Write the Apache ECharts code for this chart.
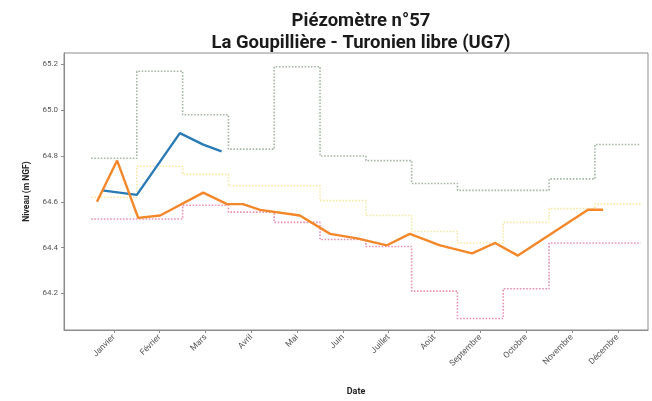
<!DOCTYPE html>
<html>
<head>
<meta charset="utf-8">
<script src="https://cdn.jsdelivr.net/npm/echarts@6/dist/echarts.min.js"></script>
<style>
  html, body { margin: 0; padding: 0; background: #fff; }
  #main { width: 652px; height: 401px; }
</style>
</head>
<body>
<div id="main"></div>
<script>
// mois (axe x en mois depuis le 1er janvier)
var months = ['Janvier', 'Février', 'Mars', 'Avril', 'Mai', 'Juin', 'Juillet',
    'Août', 'Septembre', 'Octobre', 'Novembre', 'Décembre'];
var monthTicks = [0.5, 1.5, 2.5, 3.5, 4.5, 5.5, 6.5, 7.5, 8.5, 9.5, 10.5, 11.5];
var yTicks = [64.2, 64.4, 64.6, 64.8, 65.0, 65.2];

// statistiques mensuelles (valeurs par mois)
var maxMonthly = [64.79, 65.17, 64.98, 64.83, 65.19, 64.80, 64.78, 64.68, 64.65, 64.65, 64.70, 64.85];
var medMonthly = [64.62, 64.755, 64.72, 64.67, 64.67, 64.605, 64.54, 64.47, 64.42, 64.51, 64.57, 64.59];
var minMonthly = [64.525, 64.525, 64.585, 64.555, 64.51, 64.435, 64.405, 64.21, 64.09, 64.22, 64.42, 64.42];

// mesures (mois décimal, niveau)
var blueDates = [0.24, 1.00, 1.94, 2.45, 2.85];
var blueLevels = [64.65, 64.63, 64.90, 64.85, 64.82];
var orangeDates = [0.13, 0.57, 1.03, 1.51, 2.45, 2.97, 3.32, 3.69, 4.56, 5.22, 5.81,
    6.46, 6.96, 7.62, 8.32, 8.82, 9.32, 10.85, 11.18];
var orangeLevels = [64.60, 64.78, 64.53, 64.54, 64.64, 64.59, 64.59, 64.565, 64.54, 64.46, 64.44,
    64.41, 64.46, 64.41, 64.375, 64.42, 64.365, 64.565, 64.565];

function stepData(vals) {
    var d = vals.map(function (v, i) { return [i, v]; });
    d.push([vals.length, vals[vals.length - 1]]);
    return d;
}
function pairs(xs, ys) {
    return xs.map(function (x, i) { return [x, ys[i]]; });
}
function stepSeries(vals, color, opacity) {
    return {
        type: 'line',
        step: 'end',
        data: stepData(vals),
        showSymbol: false,
        silent: true,
        z: 2,
        lineStyle: { color: color, width: 1.6, type: [1.6, 1.6], opacity: opacity }
    };
}

var chart = echarts.init(document.getElementById('main'));
var font = 'Roboto, "DejaVu Sans", sans-serif';

chart.setOption({
    animation: false,
    title: {
        text: 'Piézomètre n°57\nLa Goupillière - Turonien libre (UG7)',
        left: 356,
        top: 5,
        textAlign: 'center',
        textStyle: { fontFamily: font, fontSize: 18.5, fontWeight: 'bold', color: '#1a1a1a', lineHeight: 22 }
    },
    grid: {
        left: 64, right: 4, top: 53, bottom: 65,
        show: true, borderColor: '#8c8c8c', borderWidth: 1
    },
    xAxis: {
        type: 'value',
        min: -0.59,
        max: 12.16,
        name: 'Date',
        nameLocation: 'middle',
        nameGap: 57,
        nameTextStyle: { fontFamily: font, fontSize: 9, fontWeight: 'bold', color: '#222' },
        splitLine: { show: false },
        axisLine: { show: true, onZero: false, lineStyle: { color: '#8c8c8c' } },
        axisTick: { show: true, length: 3, customValues: monthTicks, lineStyle: { color: '#8c8c8c' } },
        axisLabel: {
            customValues: monthTicks,
            rotate: 45,
            margin: 6,
            fontFamily: font,
            fontSize: 8.5,
            color: '#555',
            formatter: function (v) { return months[Math.floor(v)]; }
        }
    },
    yAxis: {
        type: 'value',
        min: 64.04,
        max: 65.25,
        name: 'Niveau (m NGF)',
        nameLocation: 'middle',
        nameGap: 32,
        nameTextStyle: { fontFamily: font, fontSize: 8.5, fontWeight: 'bold', color: '#222' },
        splitLine: { show: false },
        axisLine: { show: true, onZero: false, lineStyle: { color: '#8c8c8c' } },
        axisTick: { show: true, length: 3, customValues: yTicks, lineStyle: { color: '#8c8c8c' } },
        axisLabel: {
            customValues: yTicks,
            margin: 6,
            fontFamily: font,
            fontSize: 8,
            color: '#555',
            formatter: function (v) { return v.toFixed(1); }
        }
    },
    series: [
        stepSeries(maxMonthly, '#86a086', 0.75),
        stepSeries(medMonthly, '#f3dc7a', 0.65),
        stepSeries(minMonthly, '#e3779a', 0.8),
        {
            type: 'line',
            data: pairs(blueDates, blueLevels),
            showSymbol: false,
            z: 3,
            lineStyle: { color: '#2a7ab5', width: 2.4 }
        },
        {
            type: 'line',
            data: pairs(orangeDates, orangeLevels),
            showSymbol: false,
            z: 4,
            lineStyle: { color: '#f4872a', width: 2.4 }
        }
    ]
});
</script>
</body>
</html>
